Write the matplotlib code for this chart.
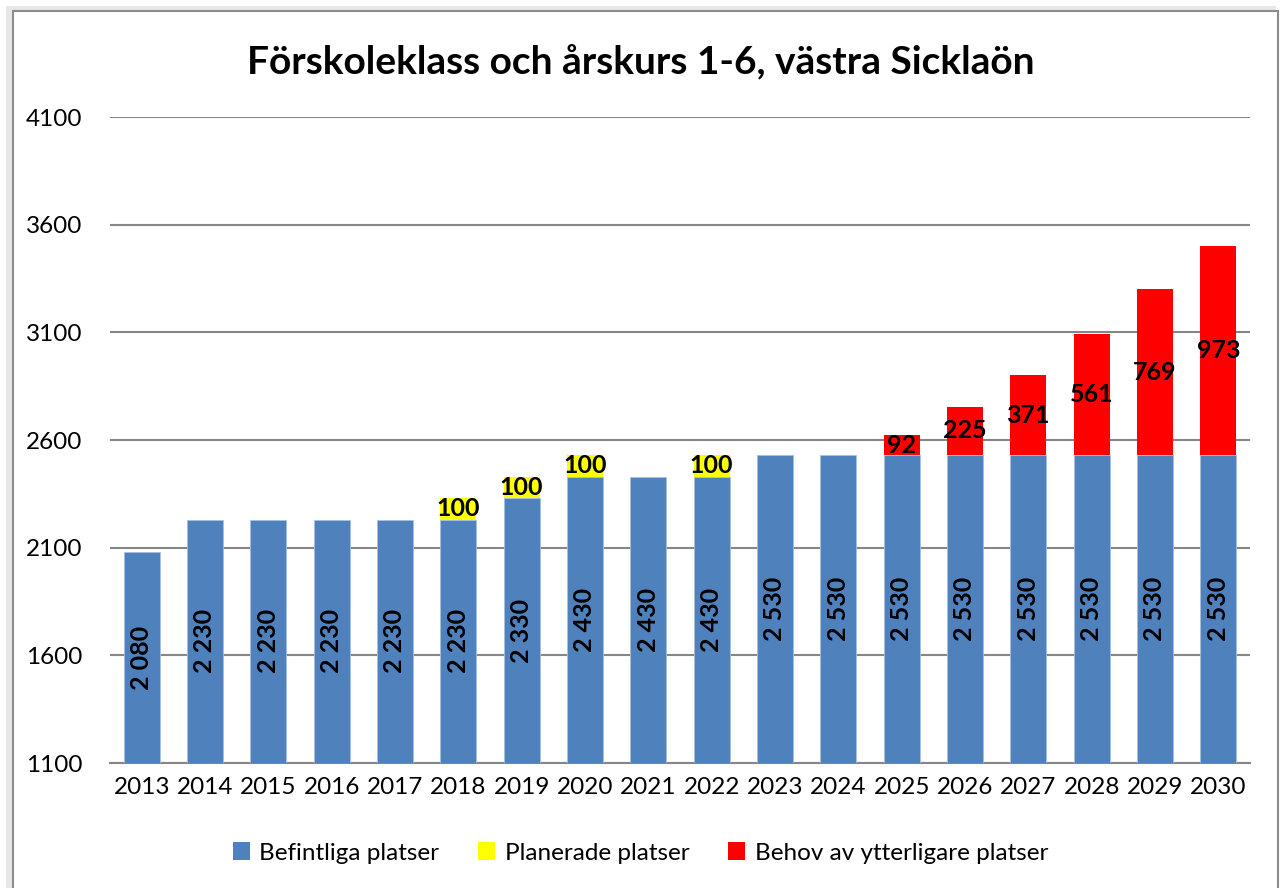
import matplotlib
matplotlib.use("Agg")
import matplotlib.pyplot as plt
from matplotlib.patches import Rectangle, Patch
import numpy as np

years = ["2013", "2014", "2015", "2016", "2017", "2018", "2019", "2020", "2021",
         "2022", "2023", "2024", "2025", "2026", "2027", "2028", "2029", "2030"]
befintliga = [2080, 2230, 2230, 2230, 2230, 2230, 2330, 2430, 2430,
              2430, 2530, 2530, 2530, 2530, 2530, 2530, 2530, 2530]
planerade = [0, 0, 0, 0, 0, 100, 100, 100, 0, 100, 0, 0, 0, 0, 0, 0, 0, 0]
behov = [0, 0, 0, 0, 0, 0, 0, 0, 0, 0, 0, 0, 92, 225, 371, 561, 769, 973]
yticks = [1100, 1600, 2100, 2600, 3100, 3600, 4100]

title = "Förskoleklass och årskurs 1-6, västra Sicklaön"
legend_labels = ["Befintliga platser", "Planerade platser", "Behov av ytterligare platser"]

BLUE = "#4F81BD"
YELLOW = "#FFFF00"
RED = "#FF0000"

plt.rcParams["font.family"] = ["Lato", "DejaVu Sans"]

fig = plt.figure(figsize=(12.81, 8.88), dpi=100)
fig.patch.set_facecolor("white")

# outer frame with shadow
fig.patches.append(Rectangle((6 / 1281, -0.02), (1276 - 6) / 1281, 1 - 6 / 888 + 0.02,
                             transform=fig.transFigure, facecolor="#d0d0d0",
                             edgecolor="none", alpha=0.5, zorder=0))
fig.patches.append(Rectangle((13 / 1281, -0.02), (1278 - 13) / 1281, 1 - 11 / 888 + 0.02,
                             transform=fig.transFigure, facecolor="white",
                             edgecolor="#8c8c8c", linewidth=1.5, zorder=1))

ax = fig.add_axes([110 / 1281, 1 - 763 / 888, (1250 - 110) / 1281, (763 - 117) / 888])
ax.set_zorder(2)
ax.patch.set_alpha(0)

x = np.arange(len(years))
w = 0.57
base = 1100
b_heights = [v - base for v in befintliga]
ax.bar(x, b_heights, w, bottom=base, color=BLUE, edgecolor="#a7c0de", linewidth=0.6, zorder=3)
p_bottom = [base + h for h in b_heights]
ax.bar(x, planerade, w, bottom=p_bottom, color=YELLOW, linewidth=0, zorder=3)
r_bottom = [pb + p for pb, p in zip(p_bottom, planerade)]
ax.bar(x, behov, w, bottom=r_bottom, color=RED, linewidth=0, zorder=3)

LBL = 18
for i in range(len(years)):
    bv = befintliga[i]
    ax.text(x[i], (base + bv) / 2, f"{bv // 1000} {bv % 1000:03d}", rotation=90,
            ha="center", va="center", fontsize=LBL, fontweight="bold", color="black", zorder=5)
    if planerade[i]:
        ax.text(x[i], bv + planerade[i] / 2, str(planerade[i]), ha="center", va="center",
                fontsize=LBL, fontweight="bold", color="black", zorder=5)
    if behov[i]:
        ax.text(x[i], r_bottom[i] + behov[i] / 2, str(behov[i]), ha="center", va="center",
                fontsize=LBL, fontweight="bold", color="black", zorder=5)

ax.set_ylim(1100, 4100)
ax.set_xlim(-0.5, len(years) - 0.5)
ax.set_yticks(yticks)
ax.set_yticklabels([str(t) for t in yticks], fontsize=17.5)
ax.set_xticks(x)
ax.set_xticklabels(years, fontsize=17.5)
ax.tick_params(axis="both", length=0)
ax.tick_params(axis="y", pad=20)
ax.tick_params(axis="x", pad=10)
ax.grid(axis="y", color="#868686", linewidth=1.5, zorder=0)
for s in ["top", "right", "left"]:
    ax.spines[s].set_visible(False)
ax.spines["bottom"].set_color("#868686")
ax.spines["bottom"].set_linewidth(1.5)

fig.text(0.5, 1 - 62 / 888, title, ha="center", va="center", fontsize=28, fontweight="bold")

handles = [Patch(facecolor=c) for c in (BLUE, YELLOW, RED)]
fig.legend(handles, legend_labels, loc="center", bbox_to_anchor=(0.5, 1 - 853 / 888),
           ncol=3, frameon=False, fontsize=17.5, handlelength=0.7, handleheight=0.7,
           handletextpad=0.4, columnspacing=1.6)

fig.savefig("out.png", dpi=100)
